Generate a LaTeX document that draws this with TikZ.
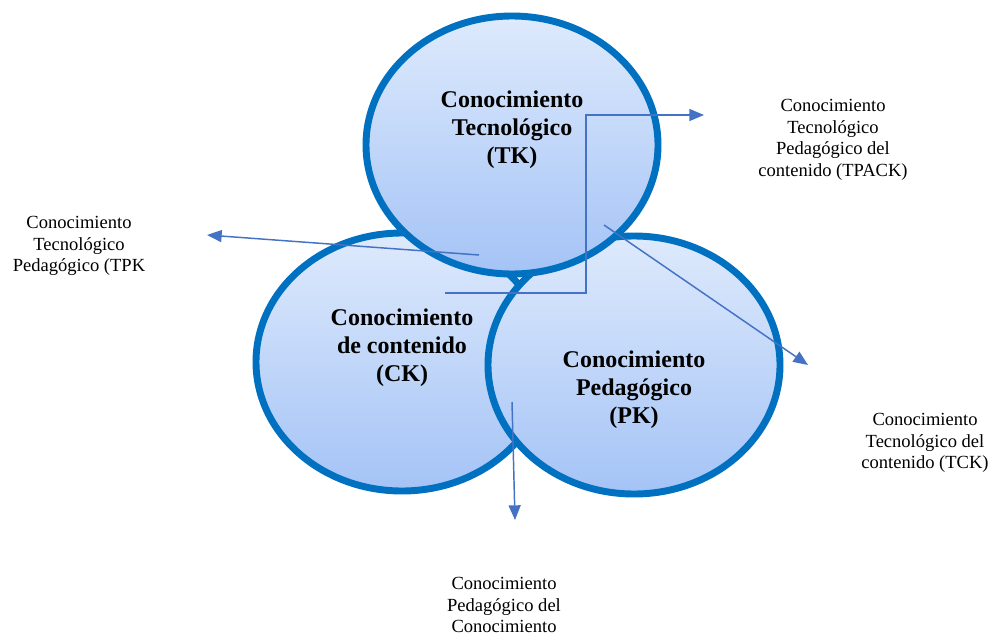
\documentclass[tikz,border=0pt]{standalone}
\usepackage{fontspec}
\setmainfont{Liberation Serif}
\usetikzlibrary{arrows.meta,shadows}

\definecolor{ringblue}{RGB}{0,112,192}
\definecolor{filltop}{RGB}{222,234,252}
\definecolor{fillbot}{RGB}{164,195,246}
\definecolor{arrowblue}{RGB}{68,114,196}

\tikzset{
  bubble/.style={draw=ringblue,line width=5.2pt,top color=filltop,bottom color=fillbot,
    drop shadow={shadow xshift=2pt,shadow yshift=-2pt,opacity=0.25}},
  bubbletext/.style={align=center,font=\fontsize{18}{21}\selectfont\bfseries},
  tagtext/.style={align=center,font=\fontsize{13.9}{16.2}\selectfont},
  link/.style={draw=arrowblue,line width=1.1pt,-{Triangle[length=11pt,width=9pt]}}
}

\begin{document}
\begin{tikzpicture}[x=0.75pt,y=-0.75pt]
            \useasboundingbox (0,0) rectangle (992,635);
            % the three areas of knowledge
            \path[bubble] (402,362) ellipse (146 and 129);
            \path[bubble] (634,365) ellipse (146 and 129);
            \path[bubble] (512,145) ellipse (146 and 129);

            \node[bubbletext] (tk) at (512,130) {Conocimiento\\Tecnológico\\(TK)};
            \node[bubbletext] (ck) at (402,348) {Conocimiento\\de contenido\\(CK)};
            \node[bubbletext] (pk) at (634,390) {Conocimiento\\Pedagógico\\(PK)};

            % labels of the overlaps
            \node[tagtext] (tpack) at (833,140) {Conocimiento\\Tecnológico\\Pedagógico del\\contenido (TPACK)};
            \node[tagtext] (tpk) at (79,246) {Conocimiento\\Tecnológico\\Pedagógico (TPK};
            \node[tagtext] (tck) at (925,443) {Conocimiento\\Tecnológico del\\contenido (TCK)};
            \node[tagtext] (pck) at (504,605) {Conocimiento\\Pedagógico del\\Conocimiento};

            \coordinate (tpkstart) at (479,255);
            \coordinate (tpkend) at (207,235);
            \coordinate (tpackstart) at (445,293);
            \coordinate (tpackbend) at (586,115);
            \coordinate (tpackend) at (704,115);
            \coordinate (tckstart) at (604,225);
            \coordinate (tckend) at (808,365);
            \coordinate (pckstart) at (512,402);
            \coordinate (pckend) at (515,520);

            \draw[link] (tpkstart) -- (tpkend);
            \draw[link] (tpackstart) -| (tpackbend) -- (tpackend);
            \draw[link] (tckstart) -- (tckend);
            \draw[link] (pckstart) -- (pckend);
        \end{tikzpicture}
\end{document}
